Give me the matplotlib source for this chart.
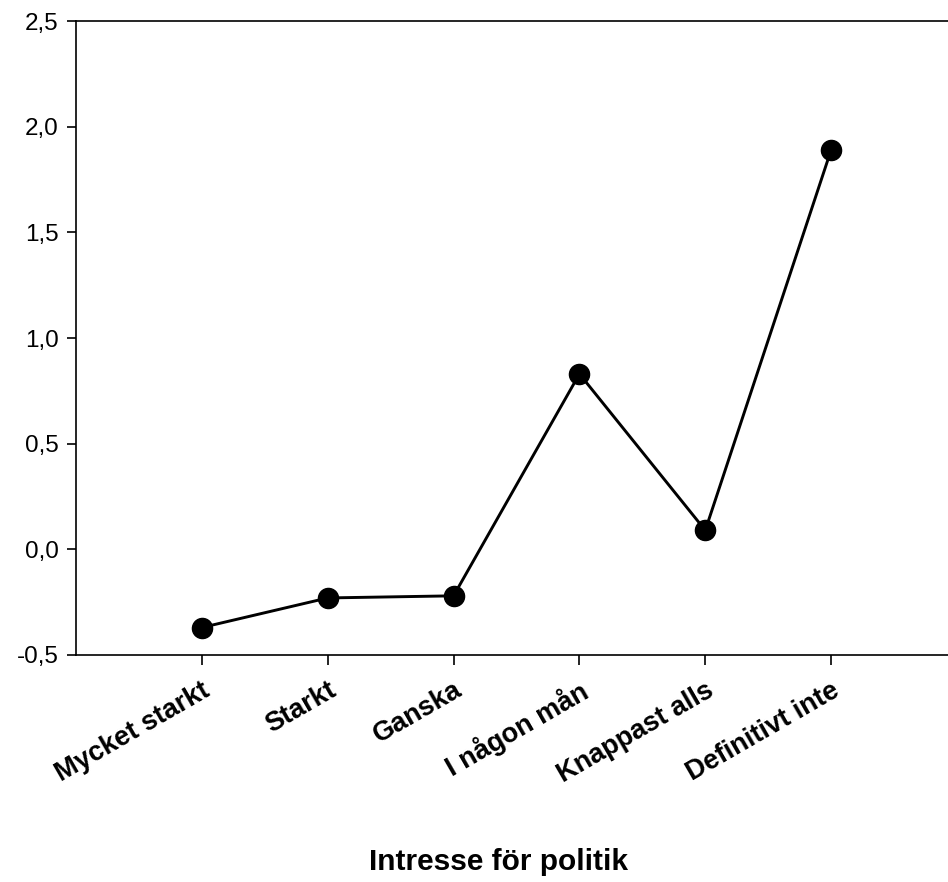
import matplotlib
matplotlib.use("Agg")
import matplotlib.pyplot as plt
import matplotlib.ticker as mtick

plt.rcParams['font.family'] = ['Liberation Sans', 'DejaVu Sans']

# Interest in politics, mean score per answer category
categories = ['Mycket starkt', 'Starkt', 'Ganska', 'I någon mån', 'Knappast alls', 'Definitivt inte']
values = [-0.37, -0.23, -0.22, 0.83, 0.09, 1.89]
yticks = [-0.5, 0.0, 0.5, 1.0, 1.5, 2.0, 2.5]

W, H = 948, 882
fig = plt.figure(figsize=(W / 100, H / 100), dpi=100)
# axes runs a little past the right edge of the canvas
ax = fig.add_axes([76 / W, 1 - 655 / H, (957 - 76) / W, (655 - 21) / H])

xs = list(range(1, len(categories) + 1))
ax.plot(xs, values, color='black', lw=2.1, marker='o', ms=14.5,
        markerfacecolor='black', markeredgecolor='black', zorder=3)

ax.set_xlim(0, 7)
ax.set_ylim(-0.5, 2.5)
ax.set_yticks(yticks)
ax.yaxis.set_major_formatter(mtick.FuncFormatter(lambda v, p: ('%.1f' % v).replace('.', ',')))
ax.set_xticks(xs)
ax.set_xticklabels(categories, rotation=30, ha='right', rotation_mode='anchor',
                   fontweight='bold', fontsize=19.5)

ax.spines['right'].set_visible(False)
for s in ['left', 'top', 'bottom']:
    ax.spines[s].set_linewidth(1.2)
ax.tick_params(axis='y', direction='out', length=6.5, width=1.2, labelsize=17.5, pad=6)
ax.tick_params(axis='x', direction='out', length=7, width=1.2, pad=9)

fig.text(499 / W, 1 - 862 / H, 'Intresse för politik', ha='center', va='center',
         fontsize=21.5, fontweight='bold')

fig.savefig('out.png', dpi=100)
